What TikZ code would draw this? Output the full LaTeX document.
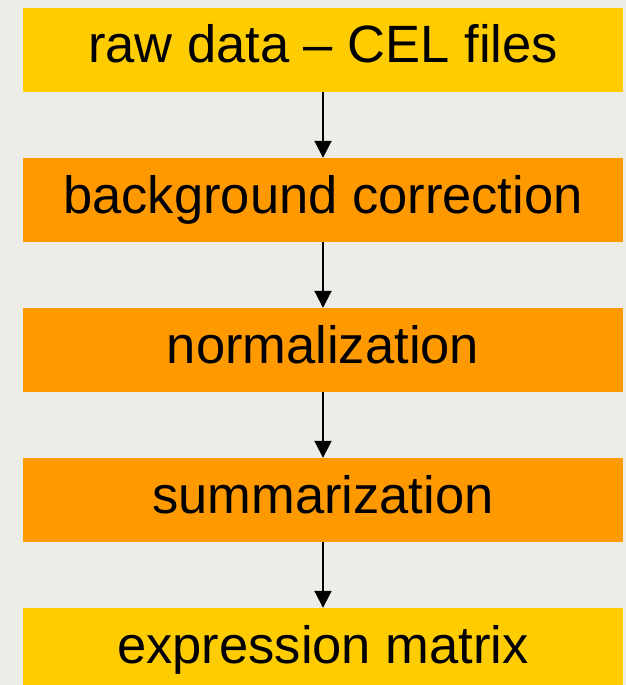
\documentclass[tikz,border=0pt]{standalone}
\usepackage{fontspec}
\setmainfont{Liberation Sans}
\usetikzlibrary{arrows.meta}
\definecolor{bgpaper}{HTML}{EDEDE7}
\definecolor{stepyellow}{HTML}{FFCC00}
\definecolor{steporange}{HTML}{FF9900}
\tikzset{
  stage/.style={rectangle, inner sep=0pt, minimum width=600pt, minimum height=84pt,
    text height=40pt, text depth=14pt,
    font=\fontsize{52.5}{60}\selectfont, text=black},
  ends/.style={stage, fill=stepyellow},
  mid/.style={stage, fill=steporange},
  flow/.style={line width=2pt, -{Triangle[length=17pt,width=17pt]}}
}
\begin{document}
\begin{tikzpicture}[x=1pt,y=-1pt]
  \useasboundingbox (0,0) rectangle (626,685);
  \fill[bgpaper] (0,0) rectangle (626,685);
  \clip (0,0) rectangle (626,685);
  \node[ends] (raw)  at (323,50)  {raw data -- CEL files};
  \node[mid]  (bg)   at (323,200) {background correction};
  \node[mid]  (norm) at (323,350) {normalization};
  \node[mid]  (summ) at (323,500) {summarization};
  \node[ends] (expr) at (323,650) {expression matrix};
  \draw[flow] (raw) -- (bg);
  \draw[flow] (bg) -- (norm);
  \draw[flow] (norm) -- (summ);
  \draw[flow] (summ) -- (expr);
\end{tikzpicture}
\end{document}
